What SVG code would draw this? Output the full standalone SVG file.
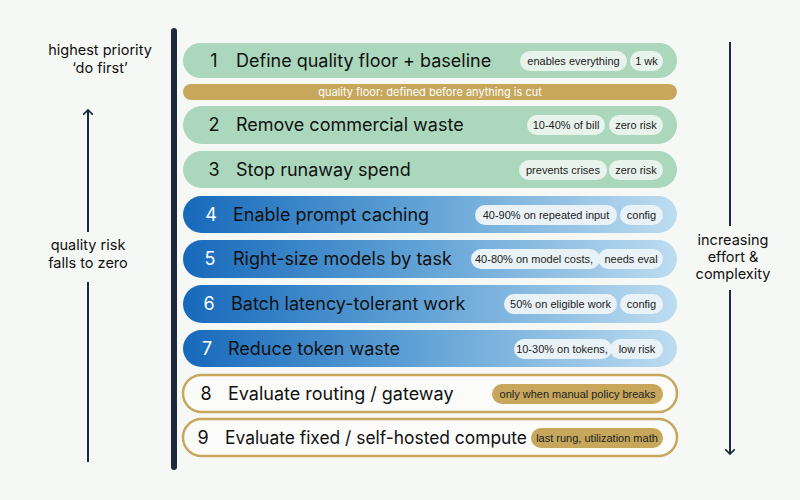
<svg xmlns="http://www.w3.org/2000/svg" width="800" height="500" viewBox="0 0 800 500">
<style>
text{font-family:Inter,"Noto Sans","Liberation Sans",sans-serif}
.g{fill:#abd8bd}.b{fill:url(#bg)}.o{fill:#fbfcfa;stroke:#c6a75c;stroke-width:2.5}
.n{font-size:18px;fill:#111;text-anchor:middle}.nw{font-size:18px;fill:#fff;text-anchor:middle}
.t{font-size:18px;fill:#111}
.p{fill:#e8f3ec}.pb{fill:#e9f2f6}.pg{fill:#c6a75c}
.pt{font-size:11px;fill:#222;text-anchor:middle;font-family:"Liberation Sans",Arial,sans-serif}
.s{font-size:14.5px;fill:#111;text-anchor:middle}
.ax{stroke:#1c2a3c;stroke-width:2;fill:none}
</style>
<defs>
<linearGradient id="bg" x1="0" x2="1"><stop offset="0" stop-color="#1769bb"/><stop offset="0.45" stop-color="#5c9fd4"/><stop offset="1" stop-color="#bddcf0"/></linearGradient>
<marker id="ah" viewBox="0 0 10 10" refX="5" refY="5" markerWidth="10" markerHeight="10" orient="auto-start-reverse" markerUnits="userSpaceOnUse"><path d="M0,0 L5,5 L0,10" fill="none" stroke="#1c2a3c" stroke-width="1.6"/></marker>
</defs>
<rect width="800" height="500" fill="#f6f8f6"/>
<rect x="171" y="28" width="6" height="442" rx="3" fill="#1c2a3c"/>
<g id="labels">
<text class="s" x="100" y="55">highest priority</text>
<text class="s" x="100" y="73">‘do first’</text>
<text class="s" x="88" y="250">quality risk</text>
<text class="s" x="88" y="268">falls to zero</text>
<text class="s" x="733" y="245">increasing</text>
<text class="s" x="733" y="262">effort &amp;</text>
<text class="s" x="733" y="279">complexity</text>
</g>
<g id="connectors">
<line class="ax" x1="88" y1="232" x2="88" y2="110" marker-end="url(#ah)"/>
<line class="ax" x1="88" y1="282" x2="88" y2="462"/>
<line class="ax" x1="730" y1="42" x2="730" y2="226"/>
<line class="ax" x1="730" y1="290" x2="730" y2="454" marker-end="url(#ah)"/>
</g>
<g id="r1"><rect class="g" x="183" y="43" width="494" height="35" rx="17.5"/><text class="n" x="214" y="67">1</text><text class="t" x="236" y="67">Define quality floor + baseline</text>
<rect class="p" x="520" y="51" width="107" height="20" rx="10"/><text class="pt" x="573.5" y="65">enables everything</text>
<rect class="p" x="630" y="51" width="33" height="20" rx="10"/><text class="pt" x="646.5" y="65">1 wk</text></g>
<g id="floor"><rect x="183" y="84" width="494" height="16" rx="8" fill="#c6a75c"/><text x="430" y="96" font-size="11" fill="#fff" text-anchor="middle">quality floor: defined before anything is cut</text></g>
<g id="r2"><rect class="g" x="183" y="106" width="494" height="38" rx="19"/><text class="n" x="214" y="131">2</text><text class="t" x="236" y="131">Remove commercial waste</text>
<rect class="p" x="527" y="115" width="78" height="20" rx="10"/><text class="pt" x="566" y="129">10-40% of bill</text>
<rect class="p" x="609" y="115" width="54" height="20" rx="10"/><text class="pt" x="636" y="129">zero risk</text></g>
<g id="r3"><rect class="g" x="183" y="151" width="494" height="37" rx="18.5"/><text class="n" x="214" y="176">3</text><text class="t" x="236" y="176">Stop runaway spend</text>
<rect class="p" x="519" y="160" width="88" height="20" rx="10"/><text class="pt" x="563" y="174">prevents crises</text>
<rect class="p" x="609" y="160" width="54" height="20" rx="10"/><text class="pt" x="636" y="174">zero risk</text></g>
<g id="r4"><rect class="b" x="183" y="196" width="494" height="37" rx="18.5"/><text class="nw" x="211" y="221">4</text><text class="t" x="233" y="221">Enable prompt caching</text>
<rect class="pb" x="475" y="205" width="142" height="20" rx="10"/><text class="pt" x="546" y="219">40-90% on repeated input</text>
<rect class="pb" x="620" y="205" width="43" height="20" rx="10"/><text class="pt" x="641.5" y="219">config</text></g>
<g id="r5"><rect class="b" x="183" y="240" width="494" height="38" rx="19"/><text class="nw" x="210" y="265">5</text><text class="t" x="233" y="265">Right-size models by task</text>
<rect class="pb" x="471" y="249" width="129" height="20" rx="10"/><text class="pt" x="534" y="263">40-80% on model costs,</text>
<rect class="pb" x="598" y="249" width="65" height="20" rx="10"/><text class="pt" x="631" y="263">needs eval</text></g>
<g id="r6"><rect class="b" x="183" y="285" width="494" height="38" rx="19"/><text class="nw" x="209" y="310">6</text><text class="t" x="231" y="310">Batch latency-tolerant work</text>
<rect class="pb" x="504" y="294" width="113" height="20" rx="10"/><text class="pt" x="560.5" y="308">50% on eligible work</text>
<rect class="pb" x="620" y="294" width="43" height="20" rx="10"/><text class="pt" x="641.5" y="308">config</text></g>
<g id="r7"><rect class="b" x="183" y="330" width="494" height="37" rx="18.5"/><text class="nw" x="207" y="355">7</text><text class="t" x="228" y="355">Reduce token waste</text>
<rect class="pb" x="514" y="339" width="98" height="20" rx="10"/><text class="pt" x="562" y="353">10-30% on tokens,</text>
<rect class="pb" x="610" y="339" width="53" height="20" rx="10"/><text class="pt" x="637" y="353">low risk</text></g>
<g id="r8"><rect class="o" x="183" y="375" width="494" height="37" rx="18.5"/><text class="n" x="206" y="400">8</text><text class="t" x="228" y="400">Evaluate routing / gateway</text>
<rect class="pg" x="492" y="384" width="171" height="20" rx="10"/><text class="pt" x="577.5" y="398">only when manual policy breaks</text></g>
<g id="r9"><rect class="o" x="183" y="419" width="494" height="37" rx="18.5"/><text class="n" x="203" y="444">9</text><text class="t" x="225" y="444" font-size="17.5" textLength="302" lengthAdjust="spacingAndGlyphs">Evaluate fixed / self-hosted compute</text>
<rect class="pg" x="531" y="428" width="132" height="20" rx="10"/><text class="pt" x="597" y="442">last rung, utilization math</text></g>
</svg>
